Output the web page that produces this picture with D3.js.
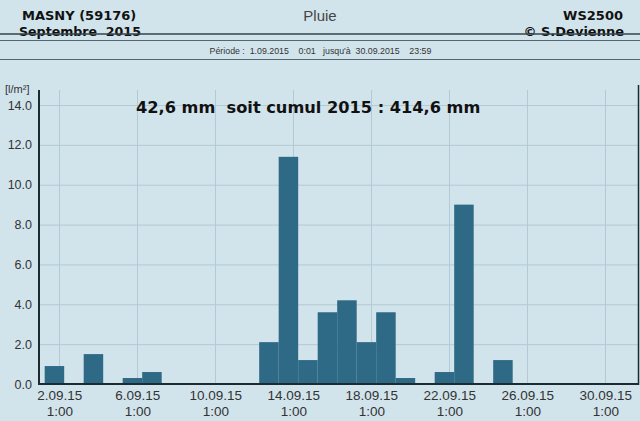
<!DOCTYPE html>
<html><head><meta charset="utf-8">
<script src="https://cdn.jsdelivr.net/npm/d3@7"></script>
<style>
html,body{margin:0;padding:0;background:#d3e5ed;}
svg{display:block;}
</style></head>
<body>
<script>
// ---- data ----
const days = [1,2,3,4,5,6,7,8,9,10,11,12,13,14,15,16,17,18,19,20,21,22,23,24,25,26,27,28,29,30];
const rain = [0.9,0,1.5,0,0.3,0.6,0,0,0,0,0,2.1,11.4,1.2,3.6,4.2,2.1,3.6,0.3,0,0.6,9.0,0,1.2,0,0,0,0,0,0];
const yTicks = [0,2,4,6,8,10,12,14];
const xTickDays = [2,6,10,14,18,22,26,30];
const xTickLabels = ["2.09.15","6.09.15","10.09.15","14.09.15","18.09.15","22.09.15","26.09.15","30.09.15"];
const xTickTime = "1:00";

(function(){
const W = 640, H = 421;
const svg = d3.select("body").append("svg").attr("width", W).attr("height", H);

svg.append("rect").attr("width", W).attr("height", H).attr("fill", "#d1e4ec");

const left = 39, right = 639, plotTop = 90, base = 384;
const x = d3.scaleTime()
  .domain([new Date(2015,8,1,0,0), new Date(2015,9,1,0,0)])
  .range([left, 624]);
const y = d3.scaleLinear().domain([0,14]).range([base, 105]);

// header
const hdr = svg.append("g");
hdr.append("text").attr("x",22).attr("y",20).text("MASNY (59176)")
  .attr("font-family","DejaVu Sans").attr("font-weight","bold").attr("font-size",13).attr("fill","#111");
hdr.append("text").attr("x",19).attr("y",36).text("Septembre  2015").style("white-space","pre")
  .attr("font-family","DejaVu Sans").attr("font-weight","bold").attr("font-size",12.6).attr("fill","#111");
hdr.append("text").attr("x",320).attr("y",21).attr("text-anchor","middle").text("Pluie")
  .attr("font-family","Liberation Sans").attr("font-size",15).attr("fill","#444");
hdr.append("text").attr("x",623).attr("y",20).attr("text-anchor","end").text("WS2500")
  .attr("font-family","DejaVu Sans").attr("font-weight","bold").attr("font-size",13).attr("fill","#111");
hdr.append("text").attr("x",624).attr("y",36).attr("text-anchor","end").text("© S.Devienne")
  .attr("font-family","DejaVu Sans").attr("font-weight","bold").attr("font-size",13).attr("fill","#111");
[34,40.5,59.5].forEach((yy,i)=>{
  hdr.append("line").attr("x1",0).attr("x2",W).attr("y1",yy).attr("y2",yy)
    .attr("stroke", i===0 ? "#33444c" : "#55666e").attr("stroke-width", i===0?1.4:1.2);
});
hdr.append("text").attr("x",320.5).attr("y",54).attr("text-anchor","middle")
  .style("white-space","pre")
  .text("Période :  1.09.2015    0:01   jusqu'à  30.09.2015    23:59")
  .attr("font-family","Liberation Sans").attr("font-size",8.8).attr("fill","#333");

// grid
const grid = svg.append("g");
grid.selectAll("line.h").data(yTicks.slice(1)).join("line")
  .attr("x1",left).attr("x2",right).attr("y1",d=>y(d)+0.5).attr("y2",d=>y(d)+0.5)
  .attr("stroke","#b3c9d3").attr("stroke-width",1);
const tickDates = xTickDays.map(d=>new Date(2015,8,d,1,0));
grid.selectAll("line.v").data(tickDates).join("line")
  .attr("x1",d=>Math.round(x(d))+0.5).attr("x2",d=>Math.round(x(d))+0.5).attr("y1",plotTop).attr("y2",base)
  .attr("stroke","#b3c9d3").attr("stroke-width",1);

// bars
svg.append("g").selectAll("rect").data(days.map((d,i)=>({d, v:rain[i]})).filter(o=>o.v>0)).join("rect")
  .attr("x", o=>x(new Date(2015,8,o.d,7)))
  .attr("width", o=>x(new Date(2015,8,o.d+1,7)) - x(new Date(2015,8,o.d,7)))
  .attr("y", o=>y(o.v))
  .attr("height", o=>base - y(o.v))
  .attr("fill","#2e6985");

// axes
const yAxis = svg.append("g").attr("transform",`translate(${left},0)`)
  .call(d3.axisLeft(y).tickValues(yTicks).tickFormat(d3.format(".1f")).tickSize(0).tickPadding(7));
yAxis.select(".domain").remove();
yAxis.selectAll("text").attr("font-family","Liberation Sans").attr("font-size",12.5).attr("fill","#333");
svg.append("line").attr("x1",left).attr("x2",left).attr("y1",plotTop).attr("y2",base+1)
  .attr("stroke","#1c2a31").attr("stroke-width",2);
svg.append("line").attr("x1",right-0.5).attr("x2",right-0.5).attr("y1",plotTop-5).attr("y2",base+1)
  .attr("stroke","#1c2a31").attr("stroke-width",1.5);

const xAxis = svg.append("g").attr("transform",`translate(0,${base})`)
  .call(d3.axisBottom(x).tickValues(tickDates).tickSize(0).tickFormat((d,i)=>xTickLabels[i]).tickPadding(5));
xAxis.select(".domain").remove();
xAxis.selectAll("text").each(function(d,i){
  const t = d3.select(this);
  t.text(null).attr("font-family","Liberation Sans").attr("font-size",13.5).attr("fill","#333");
  t.append("tspan").attr("x",0).attr("dy","0.8em").text(xTickLabels[i]);
  t.append("tspan").attr("x",0).attr("dy","1.2em").text(xTickTime);
});
svg.append("line").attr("x1",left-1).attr("x2",right).attr("y1",base).attr("y2",base)
  .attr("stroke","#1c2a31").attr("stroke-width",2);

svg.append("text").attr("x",5).attr("y",93).text("[l/m²]")
  .attr("font-family","Liberation Sans").attr("font-size",11).attr("fill","#333");

svg.append("text").attr("x",136).attr("y",113).style("white-space","pre")
  .text("42,6 mm  soit cumul 2015 : 414,6 mm")
  .attr("font-family","DejaVu Sans").attr("font-weight","bold").attr("font-size",16.2).attr("fill","#111");
})();
</script>
</body></html>
